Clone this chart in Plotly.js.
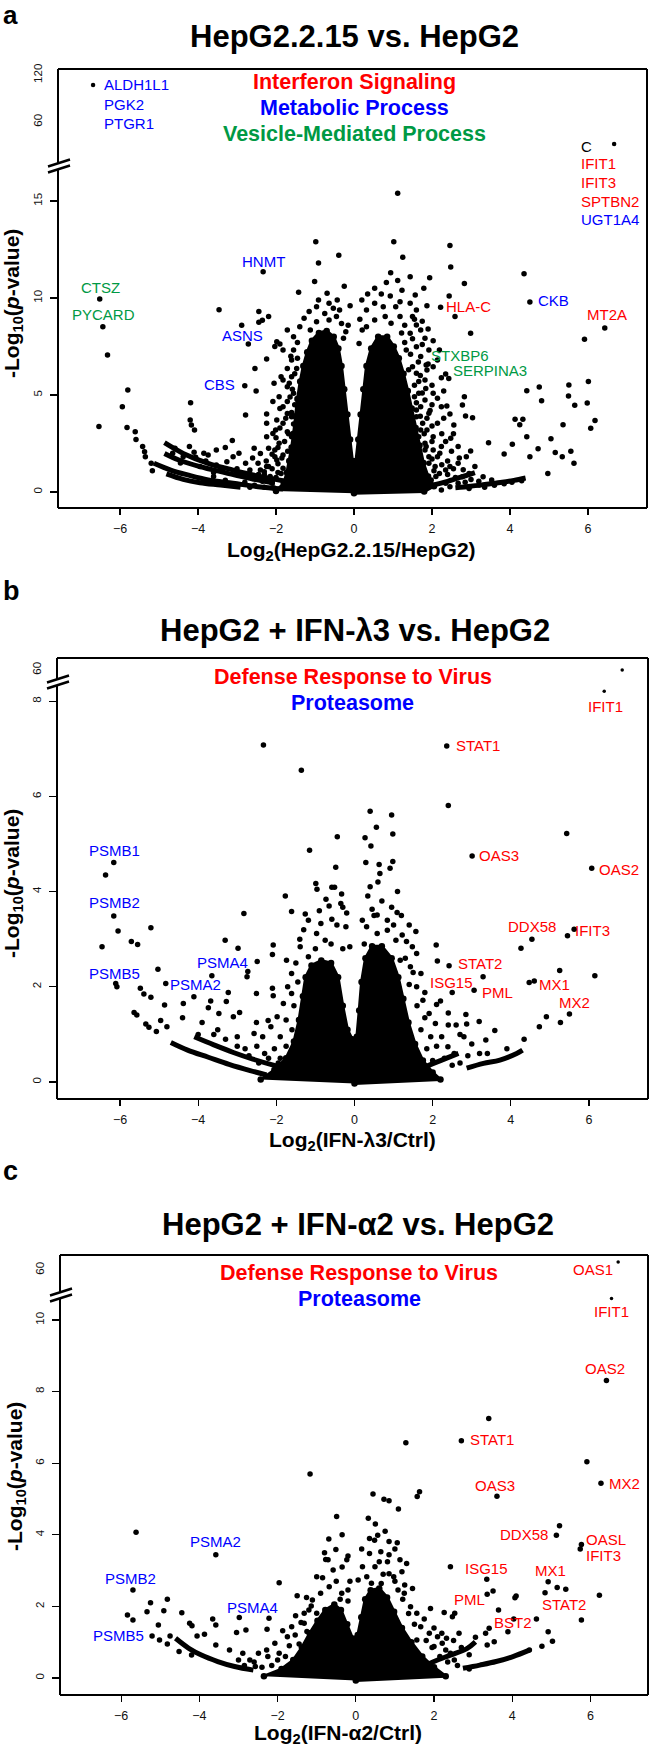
<!DOCTYPE html>
<html><head><meta charset="utf-8">
<script src="https://cdn.plot.ly/plotly-3.0.1.min.js"></script>
<style>html,body{margin:0;padding:0;background:#fff;}#chart{width:651px;height:1749px;}</style>
</head><body><div id="chart"></div>
<script>
// ---------------- DATA ----------------
// Panel a : HepG2.2.15 vs HepG2  (x = log2 fold change, y = -log10 p)
const aPoints = [
 [1.12,15.4],[-0.98,12.9],[1.02,12.9],[2.46,12.7],[-0.39,12.2],[1.25,12.1],[-0.91,11.8],[2.48,11.6],[-2.33,11.35],[4.36,11.25],[0.94,11.3],[1.44,11.1],[1.94,11.05],[-1.01,10.85],[2.83,10.75],[0.83,10.8],[1.12,10.9],[0.53,10.5],[1.23,10.4],[1.79,10.5],[-1.42,10.3],[-0.69,10.25],[-0.43,9.9],[0.93,10.1],[1.57,10.15],[2.44,10.1],
 [-6.52,9.95],[-6.44,8.52],[-6.32,7.06],[-3.46,9.4],[-2.44,9.3],[-2.35,8.85],[-2.44,8.75],[-2.19,9.05],[-2.88,8.6],[-2.71,7.63],[-1.98,7.75],[-2.03,7.5],[-2.24,6.86],[-2.54,6.37],[-2.80,5.48],[-2.51,5.21],[-2.05,5.6],[-1.82,5.77],[-2.78,3.97],[-2.24,4.02],[-4.19,4.6],[-4.2,3.71],[-4.17,3.45],[-4.09,3.2],[-3.12,2.65],[-5.80,5.26],[-5.94,4.40],[-6.54,3.37],[-5.82,3.33],[-5.61,3.11],[-5.59,2.71],[-5.42,2.34],[-5.37,2.08],[-5.35,1.82],[-5.20,1.48],[-5.17,1.10],
 [4.51,9.8],[6.43,8.45],[5.91,7.87],[6.01,5.69],[5.51,5.52],[4.75,5.41],[4.43,5.22],[5.50,4.95],[4.81,4.71],[5.66,4.47],[5.98,4.59],[4.13,3.75],[4.33,3.75],[4.25,3.47],[6.18,3.68],[6.07,3.28],[5.36,3.47],[4.43,2.85],[5.05,2.75],[3.45,2.54],[4.06,2.46],[4.72,2.23],[3.85,1.96],[4.51,1.82],[5.16,2.03],[5.56,2.10],[5.34,1.82],[5.64,1.48],[4.97,0.96],[2.99,8.18],[2.22,9.52],[2.59,9.04],
 [1.87,9.6],[2.03,7.8],[2.24,5.89],[2.43,5.85],[2.14,4.83],[2.38,4.43],[2.46,4.02],[2.83,4.91],[2.78,4.48],[2.86,3.92],[3.04,3.83],[2.56,3.45],[2.48,2.77],[2.67,2.34],[2.99,2.11],[2.46,1.31],[2.78,0.79],[3.21,0.36],[1.85,6.55],[2.35,6.08],[2.19,7.32],[2.14,6.80],[1.87,6.29],[1.66,5.69],[1.84,5.34],[1.55,4.91],[2.03,5.09],[2.24,4.40],[1.60,4.23],[1.87,3.80],[2.14,3.54],[1.71,3.20],[2.03,2.85],[2.24,2.34],[1.82,2.16],[2.14,1.82],[1.92,1.48],[2.35,1.13],[2.67,1.48],[2.88,1.82],[3.10,1.31],[3.31,0.79],[3.53,0.62],[2.67,0.45],[2.46,0.27],[2.24,0.10],[1.82,0.14],
 [0.32,9.38],[0.53,9.73],[0.75,9.55],[1.07,9.55],[1.18,9.81],[1.44,9.73],[1.60,9.38],[1.50,9.04],[1.18,9.04],[0.80,9.04],[0.53,8.87],[0.32,8.52],[1.60,8.61],[1.71,8.35],[1.44,8.18],[1.82,7.92],[1.60,7.49],[1.34,7.32],[1.92,7.32],[1.71,6.98],[1.50,6.46],[2.03,6.46],[1.60,6.12],[1.82,5.77],[1.66,5.09],[1.82,4.74],[1.71,4.40],[1.92,4.06],[1.60,3.88],[1.76,3.54],[1.87,3.20],[1.66,2.85],[1.82,2.51],[2.03,2.16],[1.92,1.82],[2.08,1.31],[2.19,0.96],[1.98,0.62],[0.21,8.35],[0.13,7.66],
 [-4.06,1.79],[-3.74,1.91],[-3.53,1.39],[-3.26,1.56],[-3.10,1.82],[-2.78,1.48],[-2.67,1.13],[-2.46,1.48],[-2.40,1.13],[-2.19,1.31],[-2.03,2.16],[-1.98,1.65],[-1.82,1.91],[-1.60,1.48],[-1.87,0.96],[-2.24,0.62],[-4.22,2.34],[-4.59,2.25],[-4.38,1.82],[-3.53,2.16],[-3.95,1.31],[-2.56,2.25],[-2.24,2.85],[-2.01,3.20],[-1.82,3.54],[-1.60,2.85],[-1.60,3.88],[-1.71,4.66],[-1.55,5.09],[-1.60,5.94],[-1.47,6.37],[-1.55,7.32],[-1.39,8.52],[-1.28,8.95],[-1.15,9.30],[-0.96,9.55],[-0.91,9.90],[-0.64,9.73],[-0.53,9.47],[-0.37,9.38],[-0.45,9.04],[-0.64,8.87],[-0.96,8.78],[-1.12,8.35],[-0.32,8.69],[-0.21,8.26],[-0.27,7.92],
 [-1.71,8.35],[-1.90,7.63],[-1.82,7.32],[-1.60,6.80],[-1.71,6.37],[-1.87,5.94],[-1.71,5.43],[-1.92,4.91],[-2.08,4.66],[-1.82,4.40],[-1.71,4.05],[-1.98,3.71],[-2.24,3.54],[-2.08,3.02],[-1.71,3.11],[-1.92,2.51],[-2.19,2.25],[-2.40,1.99],[-2.03,1.82],[-2.24,1.31],[-1.82,1.22],[-2.67,0.24],
 [-4.65,2.0],[-4.45,1.5],[-3.85,2.0],[-3.3,2.3],[-2.95,2.0],[-2.6,1.75],[-3.6,1.0],[-3.0,1.2],[-2.3,0.9],[-2.0,0.75],[-1.7,0.5],
 [-1.55,8.0],[-1.45,7.7],[-1.62,7.0],[-1.45,6.9],[-1.52,6.1],[-1.66,5.6],[-1.58,5.3],[-1.64,4.9],[-1.52,4.5],[-1.9,4.3],[-1.6,4.1],[-1.75,3.8],[-1.55,3.5],[-1.9,3.3],[-1.68,3.0],[-2.0,2.8],[-1.78,2.6],[-1.95,2.3],[-1.7,2.1],[-2.1,1.95],[-1.85,1.75],[-2.25,1.6],[-1.95,1.45],[-2.1,1.2],[-2.3,1.05],[-1.95,1.0],[-2.45,0.9],[-2.15,0.8],[-2.6,0.7],[-2.35,0.55],[-2.1,0.45],[-2.8,0.5],[-2.55,0.35],[-2.3,0.25],[-2.05,0.2],[-3.0,0.35],[-3.3,0.6],[-3.6,0.8],[-2.9,0.85],[-3.4,1.25],[-3.8,1.6],[-4.1,2.05],
 [1.55,8.9],[1.75,8.8],[1.3,8.6],[1.9,8.4],[1.22,8.2],[1.5,7.9],[1.3,7.7],[1.75,7.6],[1.45,7.1],[1.65,6.7],[1.9,6.6],[1.4,6.3],[1.7,6.0],[1.55,5.5],[2.0,5.5],[1.75,5.1],[2.3,5.2],[1.6,4.6],[2.0,4.5],[1.95,4.2],[1.7,3.9],[2.3,3.8],[2.0,3.4],[1.8,3.0],[2.25,3.0],[2.55,3.0],[2.0,2.6],[2.35,2.6],[1.85,2.35],[2.5,2.1],[2.2,2.0],[2.0,1.7],[2.4,1.6],[2.7,1.75],[2.25,1.4],[2.55,1.2],[2.05,1.1],[2.8,1.15],[2.4,0.9],[2.95,0.95],[2.6,0.75],[2.1,0.8],[3.0,0.65],[2.85,0.5],[2.35,0.45],[3.2,0.55],[3.6,0.35],[3.85,0.42],[4.05,0.5],[4.3,0.58],[3.35,0.25],[2.95,0.18],
 [-0.15,8.6],[0.15,8.9],[-0.1,9.6],[0.2,9.9],[0.35,10.2],[-0.25,10.6],[0.7,10.2],[-0.75,9.2],[0.95,8.7]
];
const aTop = [[-6.69,107.2],[6.67,31.9]];
const aCore = [[-2.0,0.05],[-1.8,0.45],[-1.72,1.0],[-1.66,1.6],[-1.6,2.3],[-1.55,3.0],[-1.5,3.9],[-1.45,4.8],[-1.38,5.7],[-1.3,6.5],[-1.2,7.2],[-1.08,7.8],[-0.9,8.2],[-0.7,8.3],[-0.52,8.0],[-0.4,7.4],[-0.32,6.5],[-0.25,5.3],[-0.17,4.0],[-0.1,2.7],[-0.04,1.6],[0.05,1.6],[0.11,2.7],[0.17,4.0],[0.24,5.3],[0.32,6.5],[0.44,7.4],[0.62,8.0],[0.85,8.0],[1.02,7.5],[1.15,6.9],[1.27,6.1],[1.38,5.2],[1.48,4.3],[1.58,3.3],[1.68,2.4],[1.78,1.5],[1.9,0.8],[2.05,0.3],[1.8,0.02],[0,-0.07]];
const aArcs = [
 [[-4.86,2.54],[-4.38,1.99],[-3.74,1.48],[-3.10,1.13],[-2.46,0.82],[-1.82,0.58],[-1.28,0.41]],
 [[-4.86,1.99],[-4.49,1.65],[-3.95,1.31],[-3.31,1.00],[-2.67,0.70],[-2.03,0.45]],
 [[-5.13,1.48],[-4.70,1.13],[-4.27,0.88],[-3.74,0.62],[-3.10,0.45],[-2.46,0.27],[-1.82,0.15]],
 [[-4.81,0.93],[-4.38,0.65],[-3.95,0.48],[-3.42,0.36],[-2.91,0.24]],
 [[2.6,0.22],[3.0,0.30],[3.4,0.40],[3.8,0.50],[4.1,0.60],[4.4,0.72]],
 [[2.0,0.35],[2.4,0.55],[2.8,0.80],[3.1,1.0]]
];
const aGeneNames = ['HNMT','CTSZ','PYCARD','ASNS','CBS','HLA-C','CKB','MT2A','STXBP6','SERPINA3'];
const aGeneCats  = ['met','ves','ves','met','met','ifn','met','ifn','ves','ves'];
const aGeneX = [-2.31,-6.51,-6.43,-2.86,-3.44,2.94,5.12,6.48,2.72,3.48];
const aGeneY = [11.9,10.55,9.16,8.09,5.52,9.55,9.86,9.16,7.06,6.24];
const aTopLeftGenes = ['ALDH1L1','PGK2','PTGR1'];
const aTopRightGenes = ['C','IFIT1','IFIT3','SPTBN2','UGT1A4'];
const aTopRightCats = ['none','ifn','ifn','ifn','met'];
const aTerms = ['Interferon Signaling','Metabolic Process','Vesicle-Mediated Process'];

// Panel b : HepG2 + IFN-λ3 vs HepG2
const bPoints = [
 [-2.33,7.08],[2.36,7.06],[-1.36,6.55],[2.40,5.81],[0.40,5.69],[0.95,5.61],[0.56,5.35],[-0.44,5.15],[0.27,5.13],[0.98,5.21],[5.43,5.22],
 [0.42,4.96],[-1.15,4.87],[3.01,4.75],[6.07,4.49],[-6.16,4.61],[-6.37,4.35],[0.29,4.61],[0.63,4.57],[0.98,4.63],[0.91,4.49],[0.65,4.38],[-0.48,4.51],[-0.99,4.17],[-0.96,4.05],[-0.58,4.09],[-0.51,4.09],[-0.33,3.95],[-1.77,3.91],[0.40,4.10],[0.34,3.91],[-0.73,3.84],[-0.35,3.75],[-0.30,3.67],[-1.61,3.58],[-2.83,3.54],[-1.26,3.53],[-0.58,3.42],[0.45,3.63],[0.95,3.67],[1.09,3.56],[0.58,3.51],[0.84,3.40],
 [-6.16,3.49],[-6.05,3.17],[-5.21,3.24],[-5.71,2.95],[-5.55,2.89],[-6.46,2.84],[1.57,3.16],[2.09,2.88],[2.12,2.54],[2.42,2.44],[3.29,2.21],[2.50,1.88],[3.06,1.93],[4.26,2.81],[4.54,3.00],[5.45,3.07],[5.62,3.21],[5.25,2.34],[6.15,2.23],[4.47,2.09],[4.60,2.12],[5.50,1.43],[5.27,1.25],[4.91,1.37],[4.73,1.16],[3.59,1.08],[4.34,0.90],[3.36,0.88],[3.19,1.27],[2.85,1.42],[2.87,1.22],[1.80,1.88],[2.10,1.63],
 [-3.31,2.98],[-2.98,2.81],[-2.49,2.53],[-3.65,2.23],[-5.03,2.37],[-6.11,2.07],[-6.08,2.00],[-4.83,2.07],[-5.48,1.97],[-5.21,1.78],[-5.39,1.85],[-4.86,1.62],[-3.23,1.88],[-4.11,1.79],[-4.38,1.65],[-3.68,1.70],[-5.64,1.46],[-5.57,1.41],[-5.34,1.22],[-5.26,1.15],[-5.07,1.06],[-4.96,1.29],[-4.80,1.16],[-2.73,2.32],[-2.75,2.21],[-2.08,2.88],[-2.10,2.68],[-1.74,2.56],[-2.10,1.97],[-2.08,1.81],[-2.51,1.86],[-3.28,1.69],[-3.47,1.44],[-3.74,1.56],[-2.94,1.46],[-3.10,1.37],[-2.51,1.25],[-2.21,1.29],[-2.57,1.02],
 [0.31,3.26],[0.58,3.12],[0.84,3.19],[1.06,2.98],[1.22,3.09],[1.33,2.95],[1.48,2.84],[1.59,2.70],[1.17,2.56],[1.43,2.42],[1.70,2.28],[1.59,2.00],[1.75,1.72],[1.91,1.44],[2.07,1.23],[2.23,0.95],[2.39,0.74],[2.55,0.60],
 [-1.39,2.84],[-1.18,2.63],[-1.61,2.28],[-1.71,2.00],[-1.82,1.65],[-1.98,1.37],[-2.14,1.16],[-2.35,0.95],[-1.61,1.86],[-0.97,3.12],[-0.75,2.98],[-1.18,3.40],[-0.86,3.33],[-0.22,3.26],[-0.12,2.84],
 [-4.0,1.0],[-3.5,1.1],[-3.0,0.95],[-2.8,0.7],[-2.3,0.6],[-1.9,0.5],[-4.4,1.35],[-3.9,1.25],[2.9,0.55],[3.4,0.6],[3.9,0.7],[2.7,1.0],[2.4,1.2],
 [-1.5,2.5],[-1.45,2.1],[-1.55,1.6],[-1.75,1.3],[-1.6,1.1],[-1.9,0.95],[-1.75,0.75],[-2.05,0.7],[-2.2,0.5],[-1.95,0.4],[-2.45,0.4],[-2.7,0.55],[-2.5,0.75],[-3.0,0.75],[-3.3,0.9],[-3.6,1.0],[-1.4,3.0],[-1.3,3.2],[-1.0,2.8],[-0.6,2.9],[-0.3,2.8],[-0.45,3.3],[-0.9,3.6],[-0.2,3.55],[-0.65,3.7],
 [1.3,2.6],[1.5,2.3],[1.4,2.05],[1.6,1.6],[1.8,1.35],[1.7,1.1],[1.95,0.95],[2.1,0.75],[1.85,0.7],[2.3,0.5],[2.0,0.45],[2.5,0.35],[2.7,0.4],[1.0,3.3],[0.5,3.5],[0.2,3.4],[0.7,3.8],[1.2,3.5],[0.25,2.9],[1.1,4.0],[0.6,4.2],[1.4,3.3],[2.2,1.7],[2.4,1.45],[2.6,1.2],[2.8,0.95],[3.0,0.8],[3.2,0.6]
];
const bTop = [[6.85,60]];
const bSmall = [[6.39,8.21]];
const bCore = [[-2.4,0.05],[-2.05,0.25],[-1.75,0.5],[-1.55,0.85],[-1.42,1.3],[-1.32,1.8],[-1.25,2.2],[-1.1,2.45],[-0.85,2.55],[-0.6,2.5],[-0.42,2.2],[-0.3,1.6],[-0.18,1.1],[-0.06,0.9],[0.06,0.95],[0.12,1.5],[0.18,2.1],[0.28,2.6],[0.45,2.85],[0.7,2.85],[0.95,2.6],[1.12,2.2],[1.25,1.75],[1.38,1.25],[1.55,0.8],[1.75,0.45],[2.0,0.2],[2.2,0.05],[0,-0.03]];
const bArcs = [
 [[-4.70,0.83],[-4.27,0.67],[-3.74,0.52],[-3.21,0.37],[-2.67,0.24],[-2.25,0.15]],
 [[-4.1,0.95],[-3.6,0.78],[-3.1,0.62],[-2.6,0.48],[-2.1,0.36],[-1.7,0.28]],
 [[2.87,0.29],[3.30,0.39],[3.72,0.46],[4.15,0.60],[4.30,0.67]],
 [[1.59,0.25],[1.9,0.35],[2.2,0.45],[2.66,0.60]]
];
const bGeneNames = ['IFIT1','STAT1','PSMB1','PSMB2','PSMB5','PSMA4','PSMA2','OAS3','OAS2','DDX58','IFIT3','STAT2','ISG15','PML','MX1','MX2'];
const bGeneCats  = ['ifn','ifn','pro','pro','pro','pro','pro','ifn','ifn','ifn','ifn','ifn','ifn','ifn','ifn','ifn'];
const bGeneX = [6.41,3.15,-6.13,-6.13,-6.13,-3.37,-4.06,3.70,6.76,4.55,6.09,3.21,2.49,3.65,5.13,5.62];
const bGeneY = [7.88,7.07,4.87,3.78,2.29,2.52,2.04,4.75,4.47,3.26,3.19,2.48,2.10,1.89,2.04,1.66];
const bTerms = ['Defense Response to Virus','Proteasome'];

// Panel c : HepG2 + IFN-α2 vs HepG2
const cPoints = [
 [6.41,8.31],[3.40,7.25],[2.70,6.63],[1.28,6.57],[5.91,6.04],[-1.17,5.70],[6.27,5.44],[3.61,5.08],[1.63,5.20],[1.57,5.07],[0.44,5.14],[0.72,4.99],[0.85,4.95],[1.09,4.72],[-0.49,4.51],[0.32,4.46],[5.21,4.25],[5.13,3.99],[0.48,3.85],[0.56,3.99],[0.85,3.81],[1.06,3.78],[-0.69,3.88],[5.77,3.73],[5.74,3.60],[-5.62,4.07],[-3.58,3.44],[0.35,3.48],[-0.20,3.41],[-0.23,3.30],[-0.51,3.59],[-0.77,3.31],[0.64,3.53],[0.85,3.44],[0.60,3.25],[0.81,3.25],[2.42,3.11],[1.18,2.97],[0.85,2.91],[3.35,2.76],[4.92,2.69],[5.15,2.53],[5.37,2.48],[4.84,2.38],[6.23,2.31],[3.51,2.43],[3.36,2.34],[4.10,2.29],[4.07,2.24],[-1.96,2.66],
 [-5.70,2.46],[-5.25,2.10],[-4.82,2.20],[-5.34,1.85],[-4.91,1.88],[-5.84,1.76],[-5.70,1.62],[-5.05,1.48],[-4.45,1.82],[-4.25,1.53],[-4.19,1.46],[-3.66,1.65],[-3.58,1.48],[-2.98,1.69],[-2.22,1.67],[-3.05,1.27],[-2.81,1.34],[-2.27,1.36],[-1.87,1.32],[-4.06,1.17],[-3.87,1.22],[-4.75,1.17],[-5.21,1.17],[-5.02,1.06],[-4.82,0.95],[-3.58,0.92],[-3.23,0.78],[-2.89,0.69],[-2.25,0.60],[-1.26,2.25],[-1.14,2.01],[-1.54,1.74],[-1.32,1.53],
 [1.91,1.94],[2.26,1.83],[2.53,1.81],[2.47,1.71],[3.65,1.90],[4.04,1.65],[4.62,1.65],[5.77,1.62],[3.89,1.29],[3.41,1.39],[3.32,1.25],[3.06,1.14],[3.54,1.01],[3.36,0.92],[4.92,1.29],[5.03,1.03],[4.76,0.89],[4.44,0.78],[2.64,1.25],[2.32,1.11],[2.21,0.97],[2.42,0.69],[2.00,0.88],[1.98,0.13],[1.20,0.08],[-1.93,0.13],[-2.57,0.32],
 [-1.00,2.83],[-0.71,3.30],[-0.58,3.02],[-0.68,2.55],[-0.90,2.37],[-1.11,2.18],[-0.36,2.37],[-0.20,2.46],[-1.00,1.81],[-1.32,1.81],[-1.64,1.43],[-1.75,1.15],[-2.07,0.97],[-2.28,0.78],[-2.49,0.69],[-1.96,0.69],[-2.71,0.50],[1.08,2.46],[1.24,2.37],[1.40,1.99],[1.56,1.81],[1.66,1.43],[1.88,1.25],[2.09,1.15],[1.56,1.06],[2.30,0.78],[2.52,0.50],[0.97,2.83],[1.13,3.30],[0.49,3.11],[0.28,2.83],[0.65,2.64],[0.17,3.11],[0.06,2.74],[-4.52,0.74],[-4.20,0.64],
 [-1.2,1.9],[-1.4,1.55],[-1.25,1.3],[-1.55,1.2],[-1.45,0.95],[-1.7,0.9],[-1.8,0.6],[-2.0,0.5],[-2.15,0.35],[-2.4,0.3],[-2.6,0.45],[-2.85,0.35],[-3.0,0.5],[-1.5,2.3],[-0.85,2.8],[-0.5,2.7],[-0.35,3.1],[-0.4,2.2],[-0.8,3.5],[-0.35,4.0],[-0.15,2.7],[-0.2,2.15],
 [1.0,2.7],[1.2,2.2],[1.35,1.8],[1.5,1.5],[1.75,1.65],[1.8,1.05],[1.95,0.85],[2.15,0.6],[2.35,0.45],[2.6,0.35],[2.0,1.4],[2.2,1.25],[2.5,1.05],[2.7,0.85],[2.9,0.65],[0.35,3.9],[0.15,3.6],[0.5,4.3],[0.75,4.1],[1.0,3.6],[1.3,3.2],[0.7,2.9],[0.4,2.65],[1.25,2.6],[1.45,2.5],[2.9,0.25]
];
const cTop = [[6.71,68]];
const cSmall = [[6.54,10.6]];
const cCore = [[-2.35,0.05],[-1.9,0.25],[-1.6,0.5],[-1.38,0.85],[-1.18,1.25],[-0.98,1.6],[-0.78,1.9],[-0.55,2.05],[-0.38,1.9],[-0.22,1.5],[-0.08,1.1],[0.05,1.2],[0.14,1.7],[0.24,2.2],[0.38,2.45],[0.6,2.5],[0.8,2.25],[0.98,1.85],[1.18,1.4],[1.42,1.0],[1.7,0.6],[2.0,0.3],[2.3,0.05],[0,-0.07]];
const cArcs = [
 [[-4.61,1.11],[-4.27,0.83],[-3.95,0.64],[-3.53,0.46],[-3.10,0.32],[-2.62,0.22]],
 [[2.74,0.27],[3.17,0.36],[3.59,0.46],[4.02,0.60],[4.44,0.78]],
 [[1.63,0.27],[2.00,0.46],[2.42,0.64],[2.85,0.83],[3.06,1.01]]
];
const cGeneNames = ['IFIT1','OAS2','STAT1','OAS3','MX2','DDX58','OASL','IFIT3','ISG15','MX1','PML','STAT2','BST2','PSMA2','PSMB2','PSMA4','PSMB5'];
const cGeneCats  = ['ifn','ifn','ifn','ifn','ifn','ifn','ifn','ifn','ifn','ifn','ifn','ifn','ifn','pro','pro','pro','pro'];
const cGeneX = [6.55,6.37,3.48,3.56,6.86,4.30,6.41,6.33,3.35,4.99,2.91,5.32,4.01,-3.59,-5.75,-2.63,-6.07];
const cGeneY = [10.25,8.65,6.65,5.39,5.42,4.02,3.88,3.41,3.06,3.00,2.20,2.06,1.55,3.81,2.78,1.97,1.18];
const cTerms = ['Defense Response to Virus','Proteasome'];

const xTicks = [-6,-4,-2,0,2,4,6];

// ---------------- STYLE / LAYOUT ----------------
const W = 651, H = 1749;
const F = '"Liberation Sans", Arial, Helvetica, sans-serif';
const RED = '#ff0000', BLUE = '#0000ff', GREEN = '#009944';
const catColor = {ifn: RED, met: BLUE, ves: GREEN, pro: BLUE, none: '#000'};
const PX = x => x / W, PY = y => 1 - y / H;

const traces = [];
function addPts(pairs, xa, ya, size) {
  traces.push({type:'scatter', mode:'markers', x: pairs.map(p=>p[0]), y: pairs.map(p=>p[1]),
    xaxis: xa, yaxis: ya, marker:{color:'#000', size: size, line:{width:0}}, hoverinfo:'skip', showlegend:false});
}
function addCore(pairs, xa, ya) {
  // dense, saturated centre of the volcano: filled outline plus its vertices as dots
  traces.push({type:'scatter', mode:'lines+markers', x: pairs.map(p=>p[0]), y: pairs.map(p=>p[1]), fill:'toself',
    fillcolor:'#000', line:{color:'#000', width:3}, marker:{color:'#000', size:6.5},
    xaxis: xa, yaxis: ya, hoverinfo:'skip', showlegend:false});
}
function addArcs(arcs, xa, ya) {
  arcs.forEach(a => traces.push({type:'scatter', mode:'lines', x: a.map(p=>p[0]), y: a.map(p=>p[1]),
    line:{color:'#000', width:5, shape:'spline'}, xaxis: xa, yaxis: ya, hoverinfo:'skip', showlegend:false}));
}

addCore(aCore,'x','y'); addArcs(aArcs,'x','y'); addPts(aPoints,'x','y',5.5); addPts(aTop,'x','y2',4.5);
addCore(bCore,'x2','y3'); addArcs(bArcs,'x2','y3'); addPts(bPoints,'x2','y3',5.5); addPts(bSmall,'x2','y3',3.5); addPts(bTop,'x2','y4',3.5);
addCore(cCore,'x3','y5'); addArcs(cArcs,'x3','y5'); addPts(cPoints,'x3','y5',5.5); addPts(cSmall,'x3','y5',3.5); addPts(cTop,'x3','y6',3.5);

function xax(L, R, zero, ppu, anchor) {
  return {domain:[PX(L), PX(R)], range:[(L-zero)/ppu, (R-zero)/ppu], anchor: anchor,
    showgrid:false, zeroline:false, showline:false, ticks:'outside', ticklen:6, tickwidth:1.2, tickcolor:'#000',
    tickvals: xTicks, tickfont:{family:F, size:12.5, color:'#111'}, ticklabelstandoff:3, fixedrange:true};
}
function yax(top, bottom, zeroY, ppu, tickvals, anchor, hidden) {
  return {domain:[PY(bottom), PY(top)], range:[(zeroY-bottom)/ppu, (zeroY-top)/ppu], anchor: anchor,
    showgrid:false, zeroline:false, showline:false, ticks:'outside', ticklen:7, tickwidth:1.2,
    tickcolor: hidden ? 'rgba(0,0,0,0)' : '#000', tickvals: tickvals, tickangle:-90,
    tickfont:{family:F, size:11.5, color:'#111'}, ticklabelstandoff:3, fixedrange:true};
}

// panel geometry in page pixels
const PA = {L:58, R:647, T:69, B:508, brk:166};
const PB = {L:57, R:648, T:658, B:1099, brk:682};
const PC = {L:60, R:648, T:1255, B:1695, brk:1295};

const layout = {
  width: W, height: H, margin:{l:0, r:0, t:0, b:0}, paper_bgcolor:'#fff', plot_bgcolor:'rgba(0,0,0,0)',
  showlegend:false, font:{family:F, color:'#000'},
  xaxis:  xax(PA.L, PA.R, 354, 39, 'y'),
  yaxis:  yax(PA.brk, PA.B, 492, 19.4, [0,5,10,15], 'x', false),
  yaxis2: (()=>{ // upper: 60 at y=122, 120 at y=75
     const ppu = 47/60; return {domain:[PY(PA.brk), PY(PA.T)], range:[60-(PA.brk-122)/ppu, 120+(75-PA.T)/ppu], anchor:'x',
     showgrid:false, zeroline:false, showline:false, ticks:'outside', ticklen:7, tickcolor:'rgba(0,0,0,0)', tickvals:[60,120], tickangle:-90,
     tickfont:{family:F, size:11.5, color:'#111'}, ticklabelstandoff:3, fixedrange:true}; })(),
  xaxis2: xax(PB.L, PB.R, 354.5, 39.08, 'y3'),
  yaxis3: yax(PB.brk, PB.B, 1082, 47.6, [0,2,4,6,8], 'x2', false),
  yaxis4: yax(PB.T, PB.brk, 730, 1, [60], 'x2', true),
  xaxis3: xax(PC.L, PC.R, 355.8, 39.1, 'y5'),
  yaxis5: yax(PC.brk, PC.B, 1678, 35.8, [0,2,4,6,8,10], 'x3', false),
  yaxis6: yax(PC.T, PC.brk, 1330, 1, [60], 'x3', true),
  shapes: [], annotations: []
};

function frame(P) {
  const ln = (x0,y0,x1,y1,c,w) => layout.shapes.push({type:'line', xref:'paper', yref:'paper',
    x0:PX(x0), y0:PY(y0), x1:PX(x1), y1:PY(y1), line:{color:c, width:w}});
  ln(P.L,P.T,P.R,P.T,'#000',2); ln(P.R,P.T,P.R,P.B,'#000',2); ln(P.L,P.B,P.R,P.B,'#000',2); ln(P.L,P.T,P.L,P.B,'#000',2);
  const cx = P.L + 1, cy = P.brk;
  ln(P.L, cy-3, P.L, cy+3, '#fff', 4);
  ln(cx-11, cy+0.5, cx+11, cy-6.5, '#000', 2.4);
  ln(cx-11, cy+6.5, cx+11, cy-0.5, '#000', 2.4);
}
frame(PA); frame(PB); frame(PC);

function ann(text, x, y, opts) {
  layout.annotations.push(Object.assign({text: text, x: PX(x), y: PY(y), xref:'paper', yref:'paper', showarrow:false,
    xanchor:'center', yanchor:'middle', font:{family:F, size:15, color:'#000'}}, opts || {}));
}
// panel letters
ann('<b>a</b>', 1, 15, {xanchor:'left', font:{family:F, size:26, color:'#000'}});
ann('<b>b</b>', 1, 591, {xanchor:'left', font:{family:F, size:27, color:'#000'}});
ann('<b>c</b>', 1, 1171, {xanchor:'left', font:{family:F, size:27, color:'#000'}});
// titles
ann('<b>HepG2.2.15 vs. HepG2</b>', 354, 36, {font:{family:F, size:31, color:'#000'}});
ann('<b>HepG2 + IFN-λ3 vs. HepG2</b>', 354.5, 631, {font:{family:F, size:31, color:'#000'}});
ann('<b>HepG2 + IFN-α2 vs. HepG2</b>', 358, 1224, {font:{family:F, size:31, color:'#000'}});
// axis titles
ann('<b>Log<sub>2</sub>(HepG2.2.15/HepG2)</b>', 351, 551, {font:{family:F, size:21, color:'#000'}});
ann('<b>Log<sub>2</sub>(IFN-λ3/Ctrl)</b>', 352, 1141, {font:{family:F, size:21, color:'#000'}});
ann('<b>Log<sub>2</sub>(IFN-α2/Ctrl)</b>', 338, 1734, {font:{family:F, size:21, color:'#000'}});
[[13,304],[13,884],[16,1477]].forEach(p => ann('<b>-Log<sub>10</sub>(<i>p</i>-value)</b>', p[0], p[1], {textangle:-90, font:{family:F, size:21, color:'#000'}}));
// enrichment terms
const termColors = [RED, BLUE, GREEN];
aTerms.forEach((t,i) => ann('<b>'+t+'</b>', 354, [82,107.5,134.2][i], {font:{family:F, size:21.5, color:termColors[i]}}));
bTerms.forEach((t,i) => ann('<b>'+t+'</b>', 353, [677.5,703.3][i], {font:{family:F, size:21.5, color:termColors[i]}}));
cTerms.forEach((t,i) => ann('<b>'+t+'</b>', 359, [1272.5,1299][i], {font:{family:F, size:21.5, color:termColors[i]}}));
// gene labels in data coordinates
function genes(names, cats, xs, ys, xr, yr) {
  names.forEach((g,i) => layout.annotations.push({text:g, x:xs[i], y:ys[i], xref:xr, yref:yr, showarrow:false,
    xanchor:'center', yanchor:'middle', font:{family:F, size:15, color:catColor[cats[i]]}}));
}
genes(aGeneNames, aGeneCats, aGeneX, aGeneY, 'x', 'y');
genes(bGeneNames, bGeneCats, bGeneX, bGeneY, 'x2', 'y3');
genes(cGeneNames, cGeneCats, cGeneX, cGeneY, 'x3', 'y5');
// stacked labels near the broken-axis outliers
aTopLeftGenes.forEach((g,i) => ann(g, 102, [85,104.5,123.5][i], {xanchor:'left', font:{family:F, size:15, color:BLUE}}));
aTopRightGenes.forEach((g,i) => ann(g, 579, [146,164,182.3,201.7,220][i], {xanchor:'left', font:{family:F, size:15, color:catColor[aTopRightCats[i]]}}));
ann('OAS1', 592.5, 1269, {font:{family:F, size:15, color:RED}});

Plotly.newPlot('chart', traces, layout, {staticPlot:true, displayModeBar:false});
</script></body></html>
